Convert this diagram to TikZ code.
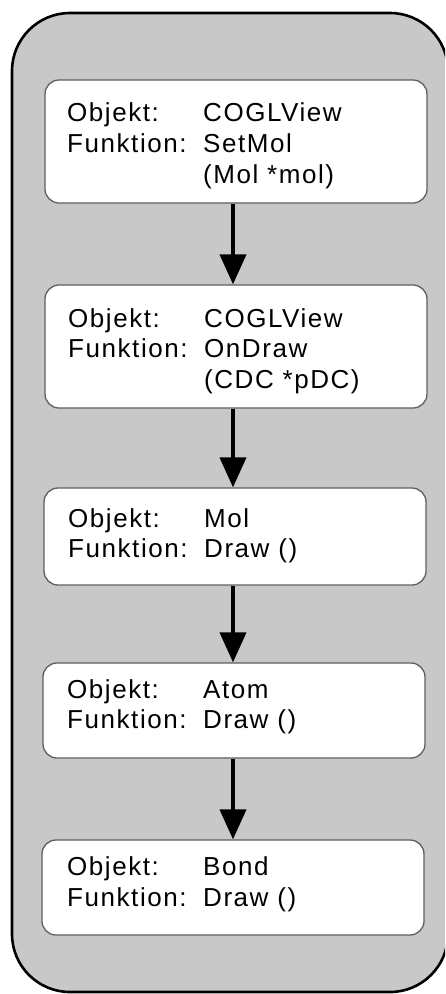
\documentclass[tikz,border=0pt]{standalone}
\usepackage{fontspec}
\setmainfont{Liberation Sans}[LetterSpace=6]
\usetikzlibrary{arrows.meta}
\definecolor{panelgray}{RGB}{200,200,200}
\definecolor{boxline}{RGB}{95,95,95}
\tikzset{
  panel/.style={draw=black, line width=2.6pt, fill=panelgray, rounded corners=58pt},
  callbox/.style={draw=boxline, line width=1.3pt, fill=white, rounded corners=14pt,
    minimum width=382pt, inner sep=0pt},
  calltext/.style={anchor=base west, inner sep=0pt, font=\fontsize{26pt}{31pt}\selectfont},
  callarrow/.style={line width=4pt, -{Triangle[length=30pt,width=26pt]}}
}
\begin{document}
\begin{tikzpicture}[x=1pt,y=-1pt]
\useasboundingbox (0,0) rectangle (445,994);
\clip (0,0) rectangle (445,994);
% outer panel
\draw[panel] (12,13) rectangle (448,992);
% call boxes
\node[callbox, minimum height=123pt] (b1) at (236,141.5) {};
\node[callbox, minimum height=123pt] (b2) at (236,346.5) {};
\node[callbox, minimum height=97pt]  (b3) at (235,536.5) {};
\node[callbox, minimum height=95pt]  (b4) at (234,710.5) {};
\node[callbox, minimum height=95pt]  (b5) at (233,887.5) {};
% box 1
\node[calltext] (k1a) at (67,121) {Objekt:};
\node[calltext] (v1a) at (203,121) {COGLView};
\node[calltext] (k1b) at (67,152) {Funktion:};
\node[calltext] (v1b) at (203,152) {SetMol};
\node[calltext] (v1c) at (203,183) {(Mol *mol)};
% box 2
\node[calltext] (k2a) at (68,327) {Objekt:};
\node[calltext] (v2a) at (204,327) {COGLView};
\node[calltext] (k2b) at (68,357) {Funktion:};
\node[calltext] (v2b) at (204,357) {OnDraw};
\node[calltext] (v2c) at (204,388) {(CDC *pDC)};
% box 3
\node[calltext] (k3a) at (68,527) {Objekt:};
\node[calltext] (v3a) at (204,527) {Mol};
\node[calltext] (k3b) at (68,557) {Funktion:};
\node[calltext] (v3b) at (204,557) {Draw ()};
% box 4
\node[calltext] (k4a) at (67,698) {Objekt:};
\node[calltext] (v4a) at (203,698) {Atom};
\node[calltext] (k4b) at (67,728) {Funktion:};
\node[calltext] (v4b) at (203,728) {Draw ()};
% box 5
\node[calltext] (k5a) at (67,875) {Objekt:};
\node[calltext] (v5a) at (203,875) {Bond};
\node[calltext] (k5b) at (67,906) {Funktion:};
\node[calltext] (v5b) at (203,906) {Draw ()};
% call sequence
\coordinate (ax) at (233,0);
\draw[callarrow] (b1.south -| ax) -- (b2.north -| ax);
\draw[callarrow] (b2.south -| ax) -- (b3.north -| ax);
\draw[callarrow] (b3.south -| ax) -- (b4.north -| ax);
\draw[callarrow] (b4.south -| ax) -- (b5.north -| ax);
\end{tikzpicture}
\end{document}
